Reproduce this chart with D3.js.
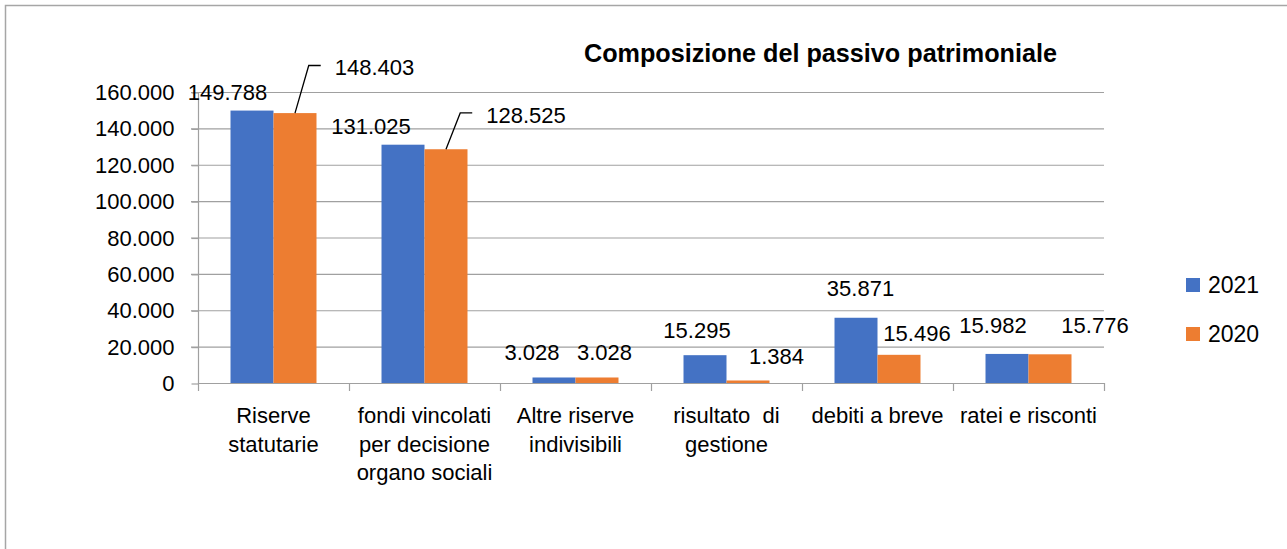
<!DOCTYPE html>
<html>
<head>
<meta charset="utf-8">
<script src="https://cdn.jsdelivr.net/npm/d3@7"></script>
<style>
  body { margin: 0; background: #fff; }
  svg text { font-family: "Liberation Sans", Arial, sans-serif; fill: #000; }
</style>
</head>
<body>
<svg id="chart" width="1287" height="549"></svg>
<script>
// data
const categories = ["Riserve\nstatutarie", "fondi vincolati\nper decisione\norgano sociali", "Altre riserve\nindivisibili", "risultato  di\ngestione", "debiti a breve", "ratei e risconti"]
const series = ["2021", "2020"]
const values2021 = [149788, 131025, 3028, 15295, 35871, 15982]
const values2020 = [148403, 128525, 3028, 1384, 15496, 15776]
const yTicks = [0, 20000, 40000, 60000, 80000, 100000, 120000, 140000, 160000]
const colors = ["#4472C4", "#ED7D31"]

// label nudges (px from bar centre / bar top), like the hand-moved excel labels
const nudge2021 = [[-24.5, -18.6], [-32, -18.7], [-22, -25], [-8, -25.2], [4.5, -29.8], [-14, -29]]
const nudge2020 = [[79.5, -45.6], [80, -34.3], [7.5, -25], [28.5, -24.5], [18, -21.8], [45, -29.3]]
const leaderFor2020 = [true, true, false, false, false, false]

const LEFT = 198, RIGHT = 1104, TOP = 92, BOTTOM = 383
const FS = 22

const it = d3.formatLocale({decimal: ",", thousands: ".", grouping: [3], currency: ["€", ""]})
const fmt = it.format(",")

var svg = d3.select("#chart")

// chart frame (runs off the right/bottom of the picture)
svg.append("rect")
    .attr("x", 5.5).attr("y", 5.5)
    .attr("width", 1400).attr("height", 700)
    .attr("fill", "none")
    .attr("stroke", "#a6a6a6")
    .attr("stroke-width", 1.5)

var x = d3.scaleBand().domain(categories).range([LEFT, RIGHT]).paddingInner(0).paddingOuter(0)
var xs = d3.scaleBand().domain(series).range([0, x.bandwidth()]).paddingInner(0).paddingOuter(0.756)
var y = d3.scaleLinear().domain([0, 160000]).range([BOTTOM, TOP])

// gridlines
svg.append("g").selectAll("line")
    .data(yTicks.filter(d => d > 0))
    .enter().append("line")
    .attr("x1", LEFT - 7).attr("x2", RIGHT)
    .attr("y1", d => y(d) + 0.5).attr("y2", d => y(d) + 0.5)
    .attr("stroke", "#a0a0a0")
    .attr("stroke-width", 1.2)

// y axis
var yAxis = svg.append("g")
    .attr("transform", "translate(" + (LEFT + 0.5) + ",0.5)")
    .call(d3.axisLeft(y).tickValues(yTicks).tickFormat(fmt).tickSize(7).tickPadding(17))
yAxis.select(".domain").attr("stroke", "#a0a0a0").attr("stroke-width", 1.2).attr("d", "M-7," + y(160000) + "H0V" + y(0))
yAxis.selectAll(".tick line").attr("stroke", "#a0a0a0").attr("stroke-width", 1.2)
yAxis.selectAll(".tick text")
    .attr("font-size", FS)
    .attr("font-family", "Liberation Sans, Arial, sans-serif")
    .attr("fill", "#000")

// bars
var rows = categories.map((c, i) => ({cat: c, i: i, vals: [values2021[i], values2020[i]]}))
var groups = svg.append("g").selectAll("g")
    .data(rows)
    .enter().append("g")
    .attr("transform", d => "translate(" + x(d.cat) + ",0)")
groups.selectAll("rect")
    .data(d => series.map((s, k) => ({s: s, k: k, v: d.vals[k], i: d.i})))
    .enter().append("rect")
    .attr("x", d => xs(d.s))
    .attr("y", d => y(d.v))
    .attr("width", xs.bandwidth())
    .attr("height", d => y(0) - y(d.v))
    .attr("fill", d => colors[d.k])

// x axis line + ticks at category edges
svg.append("line")
    .attr("x1", LEFT).attr("x2", RIGHT)
    .attr("y1", BOTTOM + 0.5).attr("y2", BOTTOM + 0.5)
    .attr("stroke", "#a0a0a0").attr("stroke-width", 1.2)
var edges = categories.map(c => x(c)).concat([RIGHT])
svg.append("g").selectAll("line")
    .data(edges)
    .enter().append("line")
    .attr("x1", d => d + 0.5).attr("x2", d => d + 0.5)
    .attr("y1", BOTTOM).attr("y2", BOTTOM + 8)
    .attr("stroke", "#a0a0a0").attr("stroke-width", 1.2)

// category labels
svg.append("g").selectAll("text")
    .data(categories)
    .enter().append("text")
    .attr("x", d => x(d) + x.bandwidth() / 2)
    .attr("y", 423)
    .attr("text-anchor", "middle")
    .attr("font-size", FS)
    .style("white-space", "pre")
    .each(function (d) {
        var t = d3.select(this)
        d.split("\n").forEach((line, j) => {
            t.append("tspan")
                .attr("x", x(d) + x.bandwidth() / 2)
                .attr("dy", j === 0 ? 0 : 28.5)
                .text(line)
        })
    })

// data labels
var labels = []
rows.forEach(r => {
    series.forEach((s, k) => {
        var nd = k === 0 ? nudge2021[r.i] : nudge2020[r.i]
        var bx = x(r.cat) + xs(s) + xs.bandwidth() / 2
        var by = y(r.vals[k])
        labels.push({v: r.vals[k], bx: bx, by: by, cx: bx + nd[0], cy: by + nd[1], leader: k === 1 && leaderFor2020[r.i]})
    })
})
var lab = svg.append("g").selectAll("text")
    .data(labels)
    .enter().append("text")
    .attr("x", d => d.cx)
    .attr("y", d => d.cy)
    .attr("dy", "0.36em")
    .attr("text-anchor", "middle")
    .attr("font-size", FS)
    .text(d => fmt(d.v))

// leader lines for the labels moved away from their bars
lab.each(function (d) {
    if (!d.leader) return
    var w = this.getComputedTextLength()
    var left = d.cx - w / 2
    svg.append("path")
        .attr("d", "M" + d.bx + "," + d.by + "L" + (left - 26) + "," + (d.cy - 2) + "H" + (left - 14))
        .attr("fill", "none")
        .attr("stroke", "#000")
        .attr("stroke-width", 1.3)
})

// title
svg.append("text")
    .attr("x", 820.5)
    .attr("y", 62)
    .attr("text-anchor", "middle")
    .attr("font-size", 25.2)
    .attr("font-weight", "bold")
    .text("Composizione del passivo patrimoniale")

// legend
var legend = svg.append("g").selectAll("g")
    .data(series)
    .enter().append("g")
    .attr("transform", (d, i) => "translate(1186," + (278 + i * 49) + ")")
legend.append("rect")
    .attr("width", 14).attr("height", 14)
    .attr("fill", (d, i) => colors[i])
legend.append("text")
    .attr("x", 22)
    .attr("y", 7)
    .attr("dy", "0.36em")
    .attr("font-size", 23)
    .text(d => d)
</script>
</body>
</html>
